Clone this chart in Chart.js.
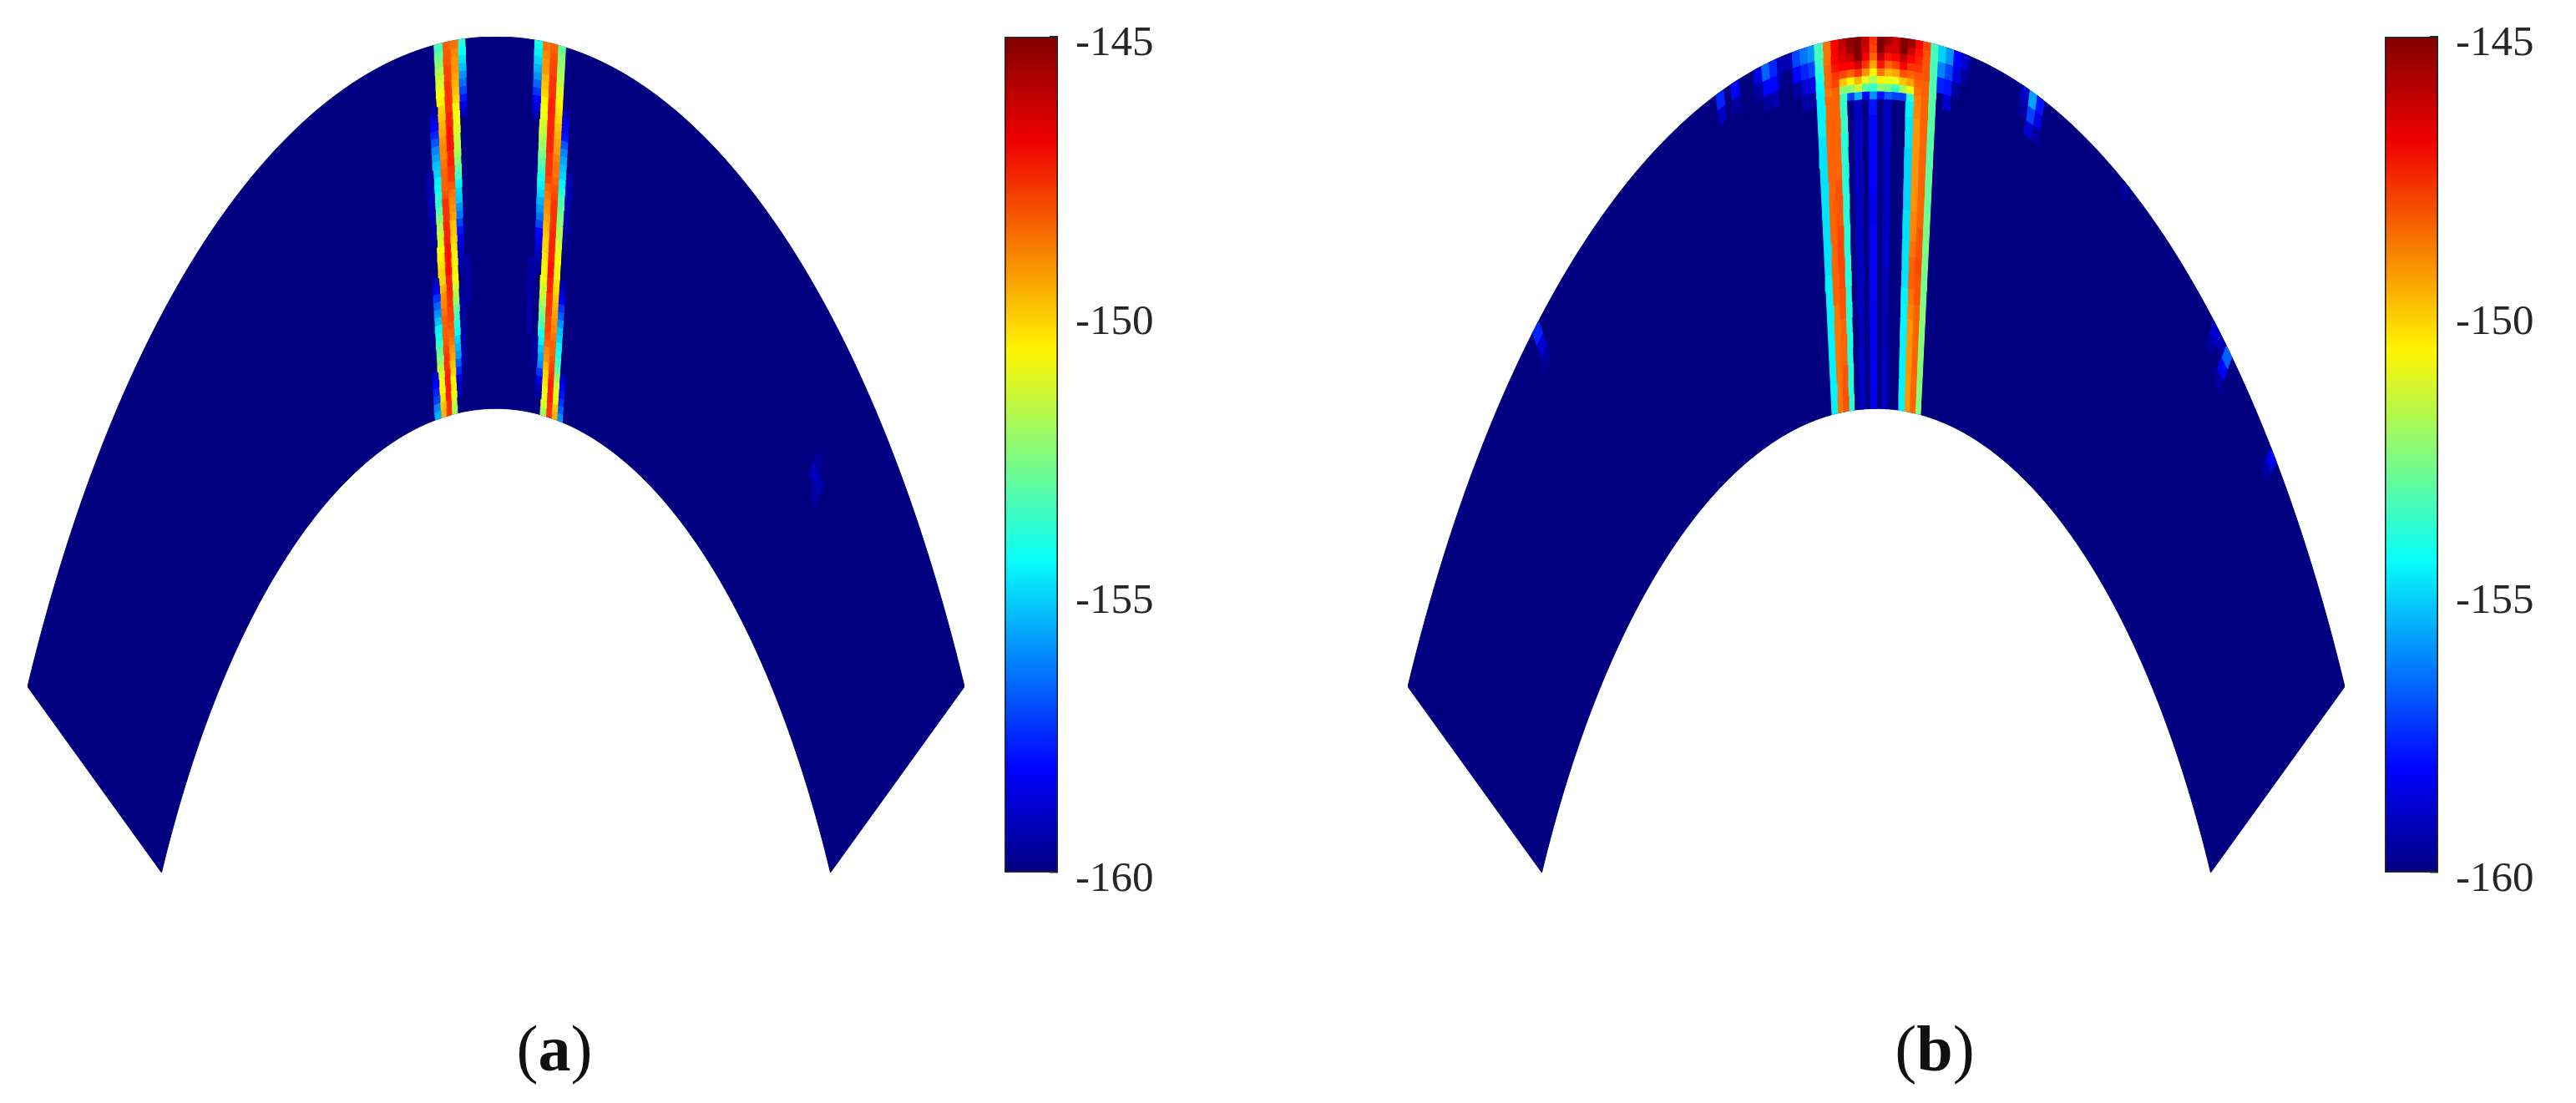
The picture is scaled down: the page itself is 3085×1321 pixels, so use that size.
<!DOCTYPE html>
<html>
<head>
<meta charset="utf-8">
<script src="https://cdn.jsdelivr.net/npm/chart.js@4/dist/chart.umd.min.js"></script>
<style>
    body { margin: 0; background: #fff; width: 3085px; height: 1321px; position: relative; overflow: hidden; }
    canvas { position: absolute; }
    .caption { position: absolute; top: 1211px; width: 200px; text-align: center; color: #111;
        font: 78px/90px "Liberation Serif", serif; }
</style>
</head>
<body>
<canvas id="heatA" width="1122" height="1001" style="left:33px;top:44px"></canvas>
<canvas id="barA" width="200" height="1060" style="left:1203px;top:24px"></canvas>
<canvas id="heatB" width="1122" height="1001" style="left:1686px;top:44px"></canvas>
<canvas id="barB" width="200" height="1060" style="left:2856px;top:24px"></canvas>
<div class="caption" style="left:564px">(<b>a</b>)</div>
<div class="caption" style="left:2217px">(<b>b</b>)</div>
<script>
const colorbarTicks = [-145, -150, -155, -160];
const floorLevel = -160;
const ceilLevel = -145;

// beam index k covers k..k+1 beam widths off boresight, rows run from the outer arc inward
const aLeftBeams = [-11, -10, -9, -8, -7, -6, -5];
const aLeftValues = [
    [-160, -160, -160, -153.3, -148.4, -148.7, -153.8],
    [-160, -160, -160, -152.8, -148.2, -148.9, -154.2],
    [-160, -160, -160, -152.3, -148.1, -149, -154.8],
    [-160, -160, -160, -151.9, -148, -149.1, -155.2],
    [-160, -160, -160, -151.5, -147.9, -149.4, -155.8],
    [-160, -160, -160, -151.1, -147.8, -149.6, -156.3],
    [-160, -160, -160, -150.7, -147.7, -149.9, -157.1],
    [-160, -160, -160, -150.4, -147.7, -150.1, -157.8],
    [-160, -160, -159.3, -150.1, -147.6, -150.4, -158.5],
    [-160, -160, -158.6, -149.9, -147.5, -150.7, -159],
    [-160, -160, -158.2, -149.6, -147.4, -150.9, -160],
    [-160, -160, -157.6, -149.3, -147.3, -151.1, -160],
    [-160, -160, -156.9, -149.1, -147.3, -151.4, -160],
    [-160, -160, -156.2, -148.9, -147.3, -151.7, -160],
    [-160, -160, -155.7, -148.8, -147.4, -152, -160],
    [-160, -160, -155.3, -148.6, -147.5, -152.4, -160],
    [-160, -159.4, -155, -148.4, -147.6, -153, -160],
    [-160, -159.3, -154.6, -148.3, -147.8, -153.6, -160],
    [-160, -159.2, -154.2, -148.3, -148.2, -154.4, -160],
    [-160, -159.2, -153.8, -148.1, -148.6, -155, -160],
    [-160, -159.2, -153.5, -147.8, -148.9, -155.3, -160],
    [-160, -159.2, -153, -147.7, -149.1, -155.8, -160],
    [-160, -159.3, -152.3, -147.6, -149.4, -156.4, -160],
    [-160, -159.4, -151.8, -147.5, -149.7, -157.1, -160],
    [-160, -159.5, -151.5, -147.4, -149.9, -157.8, -160],
    [-160, -159.7, -151.1, -147.4, -150.1, -158.2, -160],
    [-160, -160, -150.8, -147.3, -150.2, -158.6, -160],
    [-160, -160, -150.5, -147.3, -150.4, -159, -160],
    [-160, -160, -150.3, -147.3, -150.4, -159.2, -159.4],
    [-160, -160, -150.1, -147.3, -150.6, -159.5, -159.4],
    [-160, -158.9, -150, -147.4, -150.8, -160, -159.4],
    [-160, -158.2, -149.6, -147.5, -151.1, -160, -159.4],
    [-160, -157.4, -149.2, -147.7, -151.7, -159.6, -159.5],
    [-160, -156.6, -148.9, -147.8, -152.2, -159.4, -159.5],
    [-160, -155.8, -148.7, -147.9, -152.8, -159.3, -160],
    [-160, -155.1, -148.5, -148, -153.3, -159.3, -160],
    [-160, -154.5, -148.5, -148.1, -153.8, -159.3, -160],
    [-160, -154, -148.4, -148.4, -154.3, -159.3, -160],
    [-160, -153.5, -148.2, -148.6, -154.9, -159.3, -160],
    [-160, -152.9, -147.9, -149, -155.5, -159.3, -160],
    [-160, -152.3, -147.7, -149.3, -156, -159.4, -160],
    [-160, -151.7, -147.6, -149.7, -156.7, -159.4, -160],
    [-158.7, -151.2, -147.5, -150, -157.6, -160, -160],
    [-158.1, -150.8, -147.5, -150.4, -158.4, -160, -160],
    [-157.6, -150.5, -147.5, -150.6, -158.9, -160, -160],
    [-157, -150.2, -147.5, -150.9, -159.2, -160, -160],
    [-156.1, -149.9, -147.6, -151.4, -160, -160, -160],
    [-155.4, -149.5, -147.8, -151.9, -160, -160, -160]
];
const aRightBeams = [5, 6, 7, 8, 9, 10, 11];
const aRightValues = [
    [-154, -148.7, -148.4, -152.9, -160, -160, -160],
    [-154.6, -148.9, -148.2, -152.5, -160, -160, -160],
    [-155, -149, -148, -152.1, -160, -160, -160],
    [-155.5, -149.2, -147.9, -151.9, -160, -160, -160],
    [-156, -149.5, -147.8, -151.6, -160, -160, -160],
    [-156.5, -149.8, -147.7, -151.3, -160, -160, -160],
    [-157.2, -150.1, -147.6, -150.9, -160, -160, -160],
    [-157.9, -150.4, -147.5, -150.6, -160, -160, -160],
    [-158.5, -150.7, -147.5, -150.3, -159.2, -160, -160],
    [-159.1, -150.9, -147.5, -150.1, -158.5, -160, -160],
    [-160, -151.1, -147.5, -149.9, -158.2, -160, -160],
    [-160, -151.5, -147.5, -149.6, -157.7, -160, -160],
    [-160, -151.9, -147.5, -149.3, -156.9, -160, -160],
    [-160, -152.2, -147.5, -149.1, -156.2, -160, -160],
    [-160, -152.6, -147.6, -148.9, -155.7, -160, -160],
    [-160, -153, -147.6, -148.7, -155.3, -160, -160],
    [-160, -153.6, -147.8, -148.6, -155, -159.4, -160],
    [-160, -154.1, -148, -148.4, -154.5, -159.2, -160],
    [-160, -154.4, -148.3, -148.2, -154, -159.2, -160],
    [-160, -154.9, -148.6, -148, -153.4, -159.2, -160],
    [-160, -155.4, -148.9, -147.8, -153, -159.3, -160],
    [-160, -155.9, -149.2, -147.7, -152.6, -159.3, -160],
    [-160, -156.4, -149.4, -147.6, -152.3, -159.4, -160],
    [-160, -157, -149.6, -147.6, -152, -159.4, -160],
    [-160, -157.9, -149.8, -147.5, -151.6, -159.6, -160],
    [-160, -158.3, -150, -147.5, -151.3, -159.7, -160],
    [-160, -158.6, -150.1, -147.4, -151, -160, -160],
    [-160, -159, -150.2, -147.4, -150.8, -160, -160],
    [-159.4, -159.3, -150.4, -147.3, -150.6, -160, -160],
    [-159.4, -159.5, -150.6, -147.3, -150.4, -160, -160],
    [-159.4, -160, -150.8, -147.4, -150.3, -159.2, -160],
    [-159.4, -160, -151.1, -147.5, -150.1, -158.6, -160],
    [-159.4, -160, -151.5, -147.6, -149.8, -158, -160],
    [-159.5, -160, -151.9, -147.7, -149.5, -157.2, -160],
    [-159.5, -160, -152.4, -147.8, -149.3, -156.6, -160],
    [-159.5, -160, -152.9, -147.9, -149, -155.8, -160],
    [-159.5, -160, -153.4, -148, -148.8, -155.3, -160],
    [-159.5, -160, -154, -148.2, -148.7, -154.9, -160],
    [-160, -159.5, -154.6, -148.4, -148.5, -154.5, -160],
    [-160, -159.5, -155.1, -148.8, -148.3, -154, -160],
    [-160, -159.5, -155.6, -149.2, -148.1, -153.5, -160],
    [-160, -159.6, -156.1, -149.5, -147.9, -153, -160],
    [-160, -160, -157.4, -150, -147.6, -152.1, -158.6],
    [-160, -160, -158.2, -150.3, -147.5, -151.5, -158],
    [-160, -160, -158.9, -150.6, -147.5, -150.9, -157.7],
    [-160, -160, -159.4, -150.9, -147.5, -150.4, -157.2],
    [-160, -160, -160, -151.3, -147.6, -149.9, -156.5],
    [-160, -160, -160, -151.8, -147.7, -149.6, -155.9]
];
// isolated weak returns: [beam, row, level]
const aSpecks = [[50, 16, -159.4], [50, 18, -159], [51, 18, -159.2], [51, 20, -159.4]];

const bBeams = [-8, -7, -6, -5, -4, -3, -2, -1, 0, 1, 2, 3, 4, 5, 6, 7];
// the bright cap under the outer arc, one table row per grid row
const bCapValues = [
    [-153.3, -148.7, -146.9, -146.1, -145.4, -145, -146, -147.6, -145, -145.6, -146.4, -145, -145.6, -147, -148, -153.3],
    [-153.4, -148.7, -146.9, -146.2, -145.6, -145, -146.2, -148, -145.2, -146.2, -146.4, -145.2, -146.2, -147.2, -148.1, -153.3],
    [-153.6, -148.6, -147, -146.6, -146.2, -145.2, -146.8, -148.5, -146, -147.2, -147, -146, -147, -147.5, -148.1, -153.3],
    [-153.8, -148.5, -147.2, -147, -147, -146.2, -147.6, -149.3, -147.2, -148.4, -148, -147, -147.6, -147.8, -148.2, -153.3],
    [-154, -148.5, -147.6, -148, -148.5, -147.6, -149, -150.5, -148.6, -149.6, -149.4, -148.2, -148.4, -148.2, -148.2, -153.3],
    [-154.2, -148.4, -148, -149.8, -150.5, -149.6, -151, -152, -150.4, -151, -151, -149.8, -149.4, -148.4, -148.3, -153.2],
    [-154.4, -148.6, -148.3, -152.5, -152.5, -151.5, -153, -153.5, -152.5, -152.6, -153.5, -152, -151, -148.6, -148.3, -153.2],
    [-154.5, -148.5, -148.4, -153.6, -157, -155.5, -158, -156, -157.8, -156.5, -157, -157, -153.8, -148.8, -148.3, -153.2]
];
// the two walls and faint middle beams below the cap, each table row covers two grid rows
const bBodyValues = [
    [-154.5, -148.5, -148.4, -153.6, -160, -159, -160, -157.8, -160, -159, -160, -160, -154.6, -148.9, -148.3, -153.2],
    [-154.6, -148.5, -148.4, -153.6, -160, -159, -160, -158, -160, -159, -160, -160, -154.8, -149, -148.3, -153.1],
    [-154.7, -148.4, -148.3, -153.7, -160, -159, -160, -158.1, -160, -159, -160, -160, -154.8, -149.1, -148.3, -153],
    [-154.7, -148.4, -148.3, -153.7, -160, -159, -160, -158.1, -160, -159, -160, -160, -154.9, -149.2, -148.4, -153],
    [-154.7, -148.4, -148.3, -153.7, -160, -159, -160, -158.1, -160, -159, -160, -160, -154.9, -149.2, -148.4, -152.9],
    [-154.8, -148.3, -148.2, -153.8, -160, -158.9, -160, -158.1, -160, -159, -160, -160, -154.9, -149.1, -148.3, -152.8],
    [-154.8, -148.4, -148.2, -153.8, -160, -158.9, -160, -158.2, -160, -159, -160, -160, -154.9, -149, -148.3, -152.8],
    [-154.8, -148.5, -148.2, -153.8, -160, -158.9, -160, -158.2, -160, -159, -160, -160, -154.8, -148.9, -148.3, -152.7],
    [-154.7, -148.4, -148, -153.8, -160, -158.9, -160, -158.1, -160, -159, -160, -160, -154.8, -148.8, -148.2, -152.7],
    [-154.7, -148.3, -147.9, -153.8, -160, -158.9, -160, -158.1, -160, -159, -160, -160, -154.7, -148.6, -148.1, -152.7],
    [-154.7, -148.3, -147.9, -153.8, -160, -158.9, -160, -158, -160, -159, -160, -160, -154.7, -148.5, -148, -152.6],
    [-154.6, -148.4, -148, -153.8, -160, -159, -160, -158.1, -160, -159.1, -160, -160, -154.7, -148.5, -148.1, -152.6],
    [-154.6, -148.5, -148.1, -153.8, -160, -159, -160, -158.1, -160, -159.1, -160, -160, -154.6, -148.6, -148.2, -152.6],
    [-154.6, -148.6, -148.2, -153.8, -160, -159, -160, -158.2, -160, -159.1, -160, -160, -154.6, -148.8, -148.3, -152.5],
    [-154.6, -148.7, -148.3, -153.8, -160, -159.1, -160, -158.2, -160, -159.1, -160, -160, -154.6, -149, -148.3, -152.5],
    [-154.6, -148.7, -148.3, -153.8, -160, -159.1, -160, -158.2, -160, -159.1, -160, -160, -154.6, -149, -148.4, -152.5],
    [-154.6, -148.6, -148.3, -153.8, -160, -159, -160, -158.2, -160, -159, -160, -160, -154.6, -149, -148.4, -152.5],
    [-154.6, -148.6, -148.2, -153.8, -160, -159, -160, -158.2, -160, -159, -160, -160, -154.6, -149, -148.3, -152.4],
    [-154.6, -148.6, -148.2, -153.8, -160, -159, -160, -158.2, -160, -159, -160, -160, -154.6, -149, -148.3, -152.4],
    [-154.6, -148.6, -148.2, -153.8, -160, -159, -160, -158.2, -160, -159, -160, -160, -154.6, -149, -148.3, -152.4]
];
const bSpecks = [
    [-21, 0, -157.5], [-21, 2, -159], [-19, 0, -158], [-19, 2, -159.3], [-16, 0, -158.5], [-16, 2, -159.5],
    [-15, 0, -156.5], [-15, 2, -158], [-15, 4, -159.4], [-14, 0, -157.5], [-14, 2, -158], [-14, 4, -159.2],
    [-13, 0, -159.2], [-13, 2, -159.6], [-12, 0, -159.2], [-11, 0, -157], [-11, 2, -158], [-11, 4, -159.3],
    [-10, 0, -156.3], [-10, 2, -157.6], [-10, 4, -158.8], [-10, 6, -159.5],
    [-9, 0, -156], [-9, 2, -157], [-9, 4, -158.5], [-9, 6, -159.5],
    [8, 0, -155], [8, 2, -156.2], [8, 4, -157.5], [9, 0, -156], [9, 2, -157], [9, 4, -157.8], [9, 6, -158.8],
    [10, 0, -158], [10, 2, -158.5], [10, 4, -159.4], [11, 0, -158.7], [11, 2, -159.3],
    [19, 0, -159], [19, 2, -159.4], [20, 0, -155.6], [20, 2, -157], [20, 4, -158.8],
    [21, 0, -157.7], [21, 2, -158.5], [21, 4, -159.5], [33, 0, -159.3],
    [47, 0, -158.8], [47, 2, -159.3], [48, 0, -159.2], [49, 0, -156.5], [49, 2, -158], [49, 4, -159.4],
    [57, 0, -158.3], [57, 2, -159.3], [-48, 0, -157.5], [-48, 2, -158.8], [-48, 4, -159.4]
];

// sector geometry
const halfSector = 60;
const beamWidth = 120 / 146;
const rangeOuter = 100;
const rangeInner = 71.4;
const rangeRows = 48;

function rangeEdge(row) {
    return rangeOuter - row * (rangeOuter - rangeInner) / rangeRows;
}

function polar(range, beamEdge) {
    const a = beamEdge * beamWidth * Math.PI / 180;
    return {x: range * Math.sin(a), y: range * Math.cos(a)};
}

// MATLAB style jet, 64 levels
function jet(level) {
    const t = Math.floor(Math.min(0.999, (level - floorLevel) / (ceilLevel - floorLevel)) * 64) / 63;
    const ch = (v) => Math.round(255 * Math.max(0, Math.min(1, v)));
    return `rgb(${ch(Math.min(4 * t - 1.5, 4.5 - 4 * t))},${ch(Math.min(4 * t - 0.5, 3.5 - 4 * t))},${ch(Math.min(4 * t + 0.5, 2.5 - 4 * t))})`;
}

function cell(beam, row, span, level) {
    const color = jet(level);
    const r1 = rangeEdge(row);
    const r2 = rangeEdge(row + span);
    return {
        data: [polar(r1, beam), polar(r1, beam + 1), polar(r2, beam + 1), polar(r2, beam), polar(r1, beam)],
        backgroundColor: color,
        borderColor: color,
        borderWidth: 1,
        fill: 'shape',
        showLine: true,
        pointRadius: 0,
        order: 0
    };
}

function sectorOutline() {
    const edge = Math.round(halfSector / beamWidth);
    const points = [];
    for (let k = -edge; k <= edge; k++) points.push(polar(rangeOuter, k));
    for (let k = edge; k >= -edge; k--) points.push(polar(rangeInner, k));
    points.push(polar(rangeOuter, -edge));
    return {
        data: points,
        backgroundColor: jet(floorLevel),
        borderColor: jet(floorLevel),
        borderWidth: 1,
        fill: 'shape',
        showLine: true,
        pointRadius: 0,
        order: 1
    };
}

// blocks: [beams, table, first grid row, grid rows per table row]
function drawHeat(id, blocks, specks) {
    const datasets = [sectorOutline()];
    blocks.forEach(([beams, rows, firstRow, span]) => {
        rows.forEach((values, row) => {
            values.forEach((level, i) => {
                if (level > floorLevel) datasets.push(cell(beams[i], firstRow + row * span, span, level));
            });
        });
    });
    specks.forEach(([beam, row, level]) => datasets.push(cell(beam, row, 2, level)));

    const xEdge = polar(rangeOuter, Math.round(halfSector / beamWidth)).x;
    const yLow = polar(rangeInner, Math.round(halfSector / beamWidth)).y;
    new Chart(document.getElementById(id), {
        type: 'scatter',
        data: {datasets},
        options: {
            responsive: false,
            animation: false,
            clip: false,
            layout: {padding: 0},
            scales: {
                x: {type: 'linear', display: false, min: -xEdge, max: xEdge},
                y: {type: 'linear', display: false, min: yLow, max: rangeOuter}
            },
            plugins: {legend: {display: false}, tooltip: {enabled: false}}
        }
    });
}

function drawColorbar(id) {
    const jetStops = [[0, floorLevel], [0.125, -158.125], [0.375, -154.375], [0.625, -150.625], [0.875, -146.875], [1, ceilLevel]];
    new Chart(document.getElementById(id), {
        type: 'bar',
        data: {
            labels: ['level'],
            datasets: [{
                data: [[floorLevel, ceilLevel]],
                barPercentage: 1,
                categoryPercentage: 1,
                borderWidth: 2,
                borderColor: '#262626',
                borderSkipped: false,
                backgroundColor: (context) => {
                    const {chart} = context;
                    if (!chart.chartArea) return '#000080';
                    const y = chart.scales.y;
                    const grad = chart.ctx.createLinearGradient(0, y.getPixelForValue(floorLevel), 0, y.getPixelForValue(ceilLevel));
                    jetStops.forEach(([stop, level]) => grad.addColorStop(stop, jet(level === ceilLevel ? ceilLevel - 0.01 : level)));
                    return grad;
                }
            }]
        },
        options: {
            responsive: false,
            animation: false,
            layout: {padding: {top: 20, bottom: 39}},
            scales: {
                x: {display: false},
                y: {
                    position: 'right',
                    min: floorLevel,
                    max: ceilLevel,
                    afterBuildTicks: (scale) => { scale.ticks = colorbarTicks.map((value) => ({value})); },
                    afterFit: (scale) => { scale.width = 136; scale.paddingTop = 0; scale.paddingBottom = 0; },
                    border: {display: false},
                    grid: {drawOnChartArea: false, tickLength: -10, color: '#262626', lineWidth: 1.5},
                    ticks: {
                        padding: 31,
                        color: '#262626',
                        // blank first line pushes the text a little below its tick, as in the figure
                        callback: (value) => ['', String(value)],
                        font: {family: '"Liberation Serif", serif', size: 51, lineHeight: '18px'}
                    }
                }
            },
            plugins: {legend: {display: false}, tooltip: {enabled: false}}
        }
    });
}

drawHeat('heatA', [[aLeftBeams, aLeftValues, 0, 1], [aRightBeams, aRightValues, 0, 1]], aSpecks);
drawHeat('heatB', [[bBeams, bCapValues, 0, 1], [bBeams, bBodyValues, 8, 2]], bSpecks);
drawColorbar('barA');
drawColorbar('barB');
</script>
</body>
</html>
